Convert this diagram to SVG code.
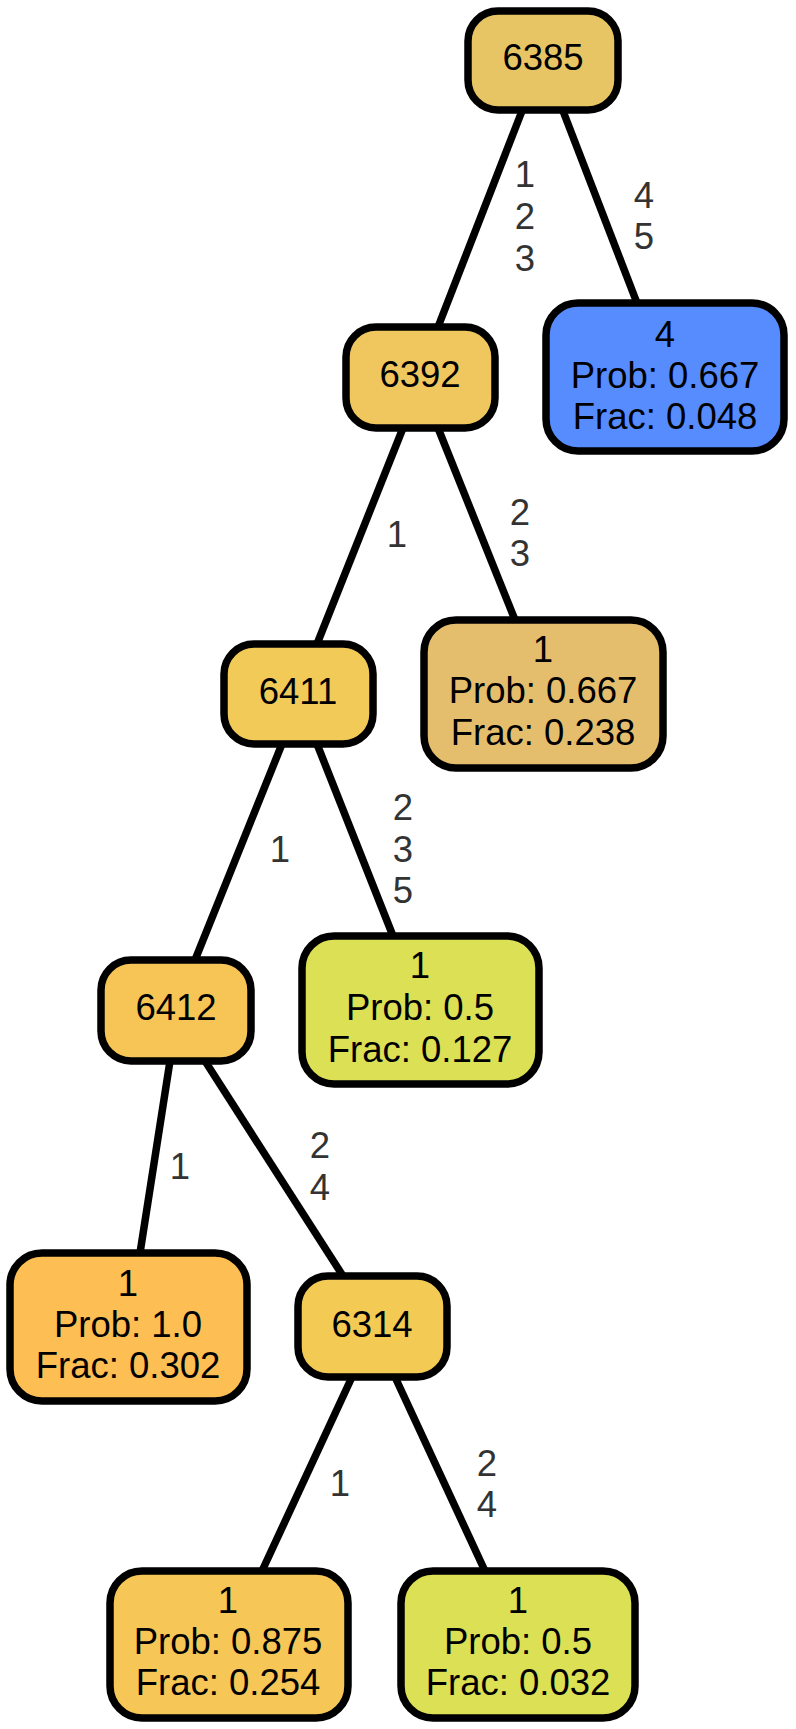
<svg xmlns="http://www.w3.org/2000/svg" width="796" height="1729" viewBox="0 0 796 1729">
<style>
.n{stroke:#000;stroke-width:7.5}
.t{font-family:"Liberation Sans",Arial,sans-serif;font-size:36.5px;fill:#000;text-anchor:middle}
.l{font-family:"Liberation Sans",Arial,sans-serif;font-size:36.5px;fill:#333;text-anchor:middle}
.e line{stroke:#000;stroke-width:7.5}
</style>
<rect width="796" height="1729" fill="#fff"/>
<g id="edges" class="e">
<line x1="522" y1="111" x2="438" y2="327"/>
<line x1="563" y1="111" x2="637" y2="303"/>
<line x1="403" y1="428" x2="317" y2="644"/>
<line x1="438" y1="428" x2="515" y2="620"/>
<line x1="282" y1="744" x2="195" y2="960"/>
<line x1="317" y1="744" x2="393" y2="936"/>
<line x1="170" y1="1061" x2="140" y2="1253"/>
<line x1="205" y1="1061" x2="343" y2="1276"/>
<line x1="352" y1="1377" x2="262" y2="1571"/>
<line x1="395" y1="1377" x2="485" y2="1571"/>
</g>
<g id="edge-labels">
<text class="l" x="525" y="187">1</text>
<text class="l" x="525" y="229">2</text>
<text class="l" x="525" y="271">3</text>
<text class="l" x="644" y="208">4</text>
<text class="l" x="644" y="249">5</text>
<text class="l" x="397" y="547">1</text>
<text class="l" x="520" y="525">2</text>
<text class="l" x="520" y="566">3</text>
<text class="l" x="280" y="862">1</text>
<text class="l" x="403" y="820">2</text>
<text class="l" x="403" y="862">3</text>
<text class="l" x="403" y="903">5</text>
<text class="l" x="180" y="1179">1</text>
<text class="l" x="320" y="1158">2</text>
<text class="l" x="320" y="1200">4</text>
<text class="l" x="340" y="1496">1</text>
<text class="l" x="487" y="1476">2</text>
<text class="l" x="487" y="1517">4</text>
</g>
<g id="n6385"><rect class="n" x="468" y="11" width="150" height="99" rx="30" fill="#E8C564"/><text class="t" x="543" y="70">6385</text></g>
<g id="nleaf4"><rect class="n" x="546" y="303" width="238" height="148" rx="32" fill="#578CFF"/><text class="t" x="665" y="347">4</text><text class="t" x="665" y="388">Prob: 0.667</text><text class="t" x="665" y="429">Frac: 0.048</text></g>
<g id="n6392"><rect class="n" x="346" y="327" width="149" height="101" rx="30" fill="#EFC75E"/><text class="t" x="420" y="387">6392</text></g>
<g id="nleaf1a"><rect class="n" x="424" y="620" width="239" height="148" rx="32" fill="#E4BE6C"/><text class="t" x="543" y="662">1</text><text class="t" x="543" y="703">Prob: 0.667</text><text class="t" x="543" y="745">Frac: 0.238</text></g>
<g id="n6411"><rect class="n" x="224" y="644" width="149" height="100" rx="30" fill="#F2CA58"/><text class="t" x="298" y="704">6411</text></g>
<g id="nleaf1b"><rect class="n" x="302" y="936" width="237" height="148" rx="32" fill="#DBE054"/><text class="t" x="420" y="978">1</text><text class="t" x="420" y="1020">Prob: 0.5</text><text class="t" x="420" y="1062">Frac: 0.127</text></g>
<g id="n6412"><rect class="n" x="101" y="960" width="150" height="101" rx="30" fill="#F7C555"/><text class="t" x="176" y="1020">6412</text></g>
<g id="nleaf1c"><rect class="n" x="10" y="1253" width="237" height="148" rx="32" fill="#FDBE53"/><text class="t" x="128" y="1296">1</text><text class="t" x="128" y="1337">Prob: 1.0</text><text class="t" x="128" y="1378">Frac: 0.302</text></g>
<g id="n6314"><rect class="n" x="298" y="1276" width="149" height="101" rx="30" fill="#F3CA54"/><text class="t" x="372" y="1337">6314</text></g>
<g id="nleaf1d"><rect class="n" x="110" y="1571" width="238" height="147" rx="32" fill="#F6C756"/><text class="t" x="228" y="1613">1</text><text class="t" x="228" y="1654">Prob: 0.875</text><text class="t" x="228" y="1695">Frac: 0.254</text></g>
<g id="nleaf1e"><rect class="n" x="401" y="1571" width="234" height="147" rx="32" fill="#DBE054"/><text class="t" x="518" y="1613">1</text><text class="t" x="518" y="1654">Prob: 0.5</text><text class="t" x="518" y="1695">Frac: 0.032</text></g>
</svg>
